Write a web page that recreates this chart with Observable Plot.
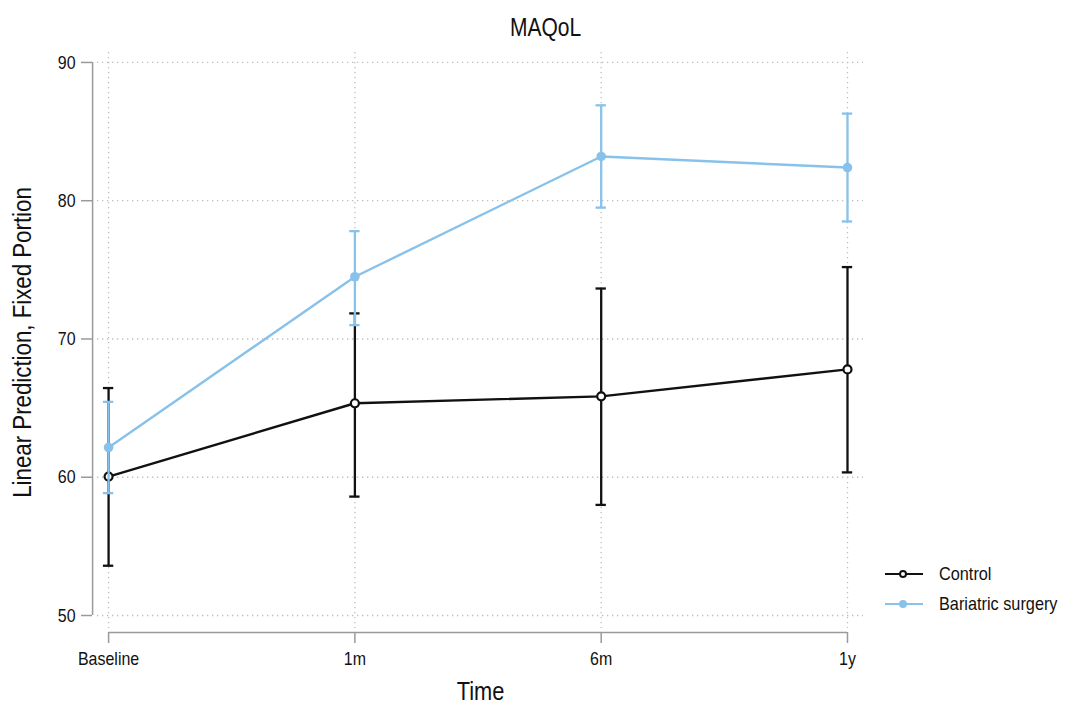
<!DOCTYPE html>
<html>
<head>
<meta charset="utf-8">
<script src="https://cdn.jsdelivr.net/npm/d3@7"></script>
<script src="https://cdn.jsdelivr.net/npm/@observablehq/plot@0.6"></script>
<style>
  body { margin: 0; background: #fff; font-family: "Liberation Sans", Arial, sans-serif; }
  #wrap { position: relative; width: 1066px; height: 707px; }
  #legend { position: absolute; left: 884px; top: 559px; font-size: 18.5px; color: #111; }
  #legend .row { display: flex; align-items: center; height: 30px; }
  #legend svg { margin-right: 15px; flex: none; }
  #legend span { display: inline-block; transform: scaleX(0.88); transform-origin: left center; white-space: nowrap; }
</style>
</head>
<body>
<div id="wrap">
  <div id="chart"></div>
  <div id="legend"></div>
</div>
<script>
// Time points on the x axis
const timepoints = ["Baseline", "1m", "6m", "1y"];

// Control group: predicted mean and 95% CI
const controlMean = [60.05, 65.35, 65.85, 67.8];
const controlLow  = [53.6, 58.6, 58.0, 60.35];
const controlHigh = [66.45, 71.85, 73.65, 75.2];

// Bariatric surgery group: predicted mean and 95% CI
const surgeryMean = [62.15, 74.5, 83.2, 82.4];
const surgeryLow  = [58.85, 71.0, 79.5, 78.5];
const surgeryHigh = [65.45, 77.8, 86.9, 86.3];

const yTicks = [50, 60, 70, 80, 90];
const groups = ["Control", "Bariatric surgery"];

const controlColor = "#111111";
const surgeryColor = "#88c2ea";
const gridColor = "#bdbdbd";
const axisColor = "#9a9a9a";

function rows(mean, lo, hi, group) {
  return timepoints.map((t, i) => ({i, t, group, mean: mean[i], lo: lo[i], hi: hi[i]}));
}
const control = rows(controlMean, controlLow, controlHigh, groups[0]);
const surgery = rows(surgeryMean, surgeryLow, surgeryHigh, groups[1]);
const xIdx = timepoints.map((_, i) => i);
const capHalf = 0.021;

function seriesMarks(data, color, hollow) {
  return [
    Plot.ruleX(data, {x: "i", y1: "lo", y2: "hi", stroke: color, strokeWidth: 2.3}),
    Plot.ruleY(data, {y: "lo", x1: d => d.i - capHalf, x2: d => d.i + capHalf, stroke: color, strokeWidth: 2.3}),
    Plot.ruleY(data, {y: "hi", x1: d => d.i - capHalf, x2: d => d.i + capHalf, stroke: color, strokeWidth: 2.3}),
    Plot.line(data, {x: "i", y: "mean", stroke: color, strokeWidth: 2.4}),
    Plot.dot(data, {x: "i", y: "mean", r: hollow ? 4 : 4.8, stroke: color, strokeWidth: hollow ? 2.2 : 0, fill: hollow ? "white" : color})
  ];
}

const chart = Plot.plot({
  width: 1066,
  height: 707,
  marginTop: 52,
  marginBottom: 79,
  marginLeft: 97,
  marginRight: 203,
  style: {fontFamily: "'Liberation Sans', Arial, sans-serif", color: "#111", background: "white"},
  x: {domain: [-0.045, 3.065], label: null},
  y: {domain: [49.06, 90.72], label: null},
  marks: [
    Plot.gridY(yTicks, {stroke: gridColor, strokeOpacity: 1, strokeWidth: 1.3, strokeDasharray: "1.3,3.7"}),
    Plot.gridX(xIdx, {stroke: gridColor, strokeOpacity: 1, strokeWidth: 1.3, strokeDasharray: "1.3,3.7"}),
    // y axis line and ticks, offset left of the first category
    Plot.ruleX([0], {y1: () => d3.min(yTicks), y2: () => d3.max(yTicks), dx: -16, stroke: axisColor, strokeWidth: 1.5}),
    Plot.axisY(yTicks, {tickSize: 11, dx: -5, tickPadding: 6, stroke: axisColor, strokeWidth: 1.5, fontSize: 19, label: null}),
    // x axis line and ticks, below the plotting frame
    Plot.ruleY([d3.min(yTicks)], {x1: () => 0, x2: () => timepoints.length - 1, dy: 17, stroke: axisColor, strokeWidth: 1.5}),
    Plot.axisX(xIdx, {tickFormat: i => timepoints[i], tickSize: 11, dy: 4, tickPadding: 8, stroke: axisColor, strokeWidth: 1.5, fontSize: 19, label: null}),
    // titles
    Plot.text(["Time"], {frameAnchor: "bottom", lineAnchor: "middle", dy: 63, fontSize: 26, fill: "#111"}),
    Plot.text(["Linear Prediction, Fixed Portion"], {frameAnchor: "left", textAnchor: "middle", lineAnchor: "middle", dx: -75, dy: 2, rotate: -90, fontSize: 26.5, fill: "#111"}),
    Plot.text(["MAQoL"], {frameAnchor: "top", lineAnchor: "middle", dx: 65, dy: -25, fontSize: 25, fill: "#111"}),
    ...seriesMarks(control, controlColor, true),
    ...seriesMarks(surgery, surgeryColor, false)
  ]
});
document.getElementById("chart").appendChild(chart);

// narrow the chart's lettering, in the style of a condensed sans
d3.select(chart).selectAll("text").each(function() {
  const w = this.getComputedTextLength();
  if (w > 0) {
    this.setAttribute("textLength", (w * 0.84).toFixed(2));
    this.setAttribute("lengthAdjust", "spacingAndGlyphs");
  }
});

// legend
const legend = d3.select("#legend");
[[groups[0], controlColor, true], [groups[1], surgeryColor, false]].forEach(([name, color, hollow]) => {
  const row = legend.append("div").attr("class", "row");
  const s = row.append("svg").attr("width", 40).attr("height", 12);
  s.append("line").attr("x1", 1).attr("x2", 39).attr("y1", 6).attr("y2", 6).attr("stroke", color).attr("stroke-width", 2.2);
  s.append("circle").attr("cx", 19).attr("cy", 6).attr("r", hollow ? 3 : 4)
    .attr("fill", hollow ? "white" : color).attr("stroke", color).attr("stroke-width", hollow ? 2 : 0);
  row.append("span").text(name);
});
</script>
</body>
</html>
